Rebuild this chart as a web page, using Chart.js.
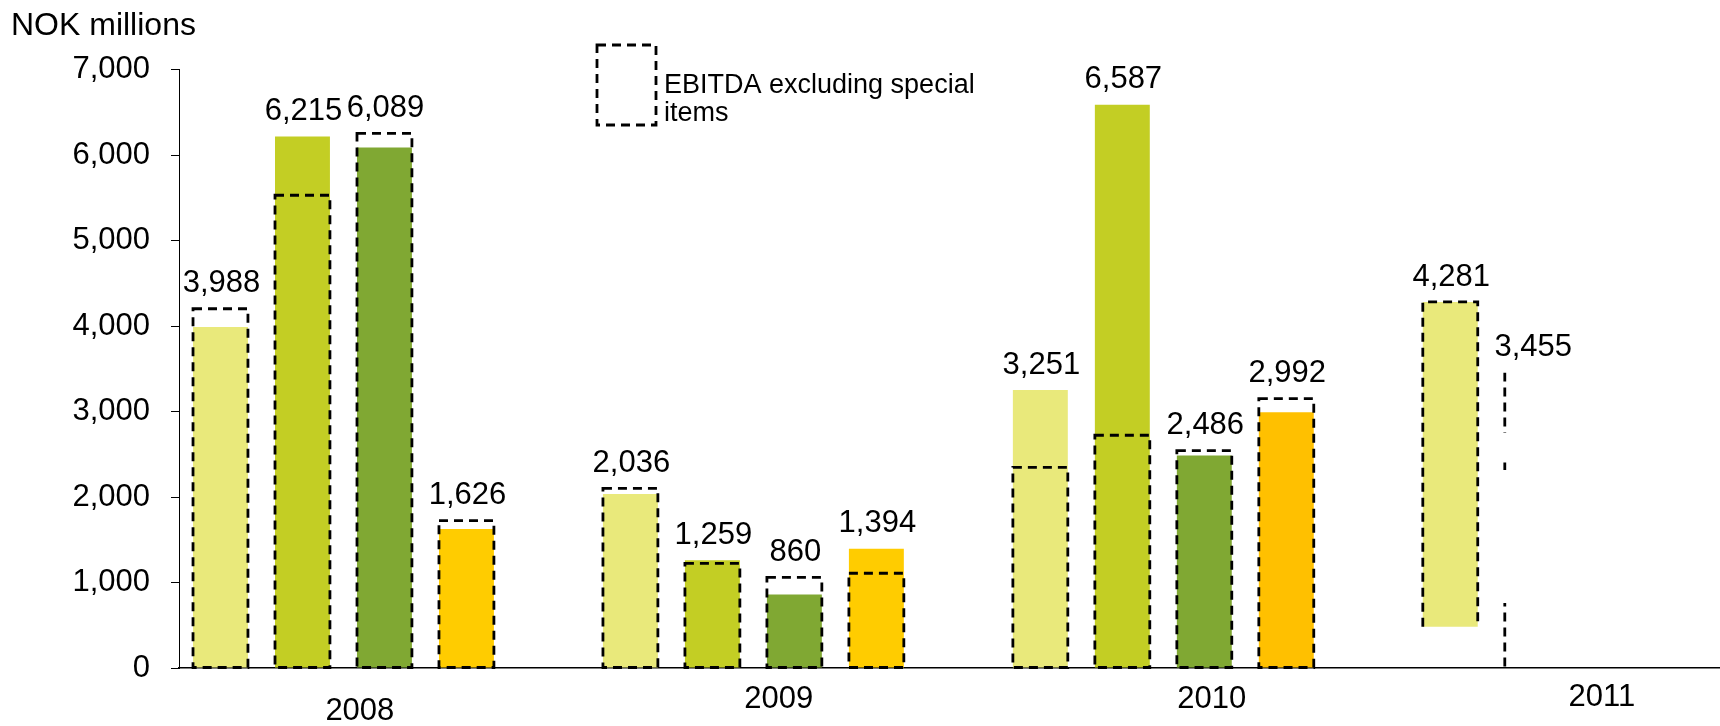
<!DOCTYPE html>
<html>
<head>
<meta charset="utf-8">
<script src="https://cdn.jsdelivr.net/npm/chart.js@4.4.1/dist/chart.umd.min.js"></script>
<style>
  html, body { margin: 0; padding: 0; background: #ffffff; overflow: hidden; }
  #wrap { width: 1720px; height: 726px; }
</style>
</head>
<body>
<div id="wrap"><canvas id="c" width="1720" height="726"></canvas></div>
<script>
// ---------------- DATA ----------------
const years = ['2008', '2009', '2010', '2011'];
const quarters = ['Q1', 'Q2', 'Q3', 'Q4'];

// Reported EBITDA (filled bars, labelled values), NOK millions
const ebitdaQ1 = [3988, 2036, 3251, 4281];
const ebitdaQ2 = [6215, 1259, 6587, 3455];
const ebitdaQ3 = [6089, 860, 2486, null];
const ebitdaQ4 = [1626, 1394, 2992, null];

// EBITDA excluding special items (dashed outlines)
const exclQ1 = [4202, 2102, 2347, 4281];
const exclQ2 = [5529, 1224, 2722, 3455];
const exclQ3 = [6254, 1060, 2542, null];
const exclQ4 = [1723, 1108, 3150, null];

// In the picture the 2011 Q1 column is only visible above this level
const q1Base2011 = 483;
// Visible pieces of the 2011 Q2 dashed outline (left edge only)
const q2Outline2011Visible = [[0, 760], [2316, 2433], [2749, 3455]];

const yAxisTitle = 'NOK millions';
const legendText = ['EBITDA excluding special', 'items'];

// ---------------- BUILD ----------------
const reported = [ebitdaQ1, ebitdaQ2, ebitdaQ3, ebitdaQ4];
const excluding = [exclQ1, exclQ2, exclQ3, exclQ4];
const slot = (g, q) => g * 5 + q;   // 4 bars per year + 1 empty slot

function points(arr, q) {
  return arr.map((v, g) => {
    if (v == null) return { x: slot(g, q), y: null };
    const floating = (q === 0 && g === 3);
    return { x: slot(g, q), y: floating ? [q1Base2011, v] : v };
  });
}

const fillColors = [
  () => '#E9E97B',
  (c) => c.dataIndex === 3 ? 'rgba(0,0,0,0)' : '#C3CE24',
  () => '#80A833',
  (c) => c.dataIndex === 2 ? '#FFC000' : '#FFCC00'
];

const datasets = [];
quarters.forEach((qn, q) => {
  datasets.push({
    label: 'EBITDA ' + qn,
    data: points(reported[q], q),
    backgroundColor: fillColors[q],
    borderWidth: 0
  });
});
quarters.forEach((qn, q) => {
  datasets.push({
    label: 'EBITDA excluding special items ' + qn,
    data: points(excluding[q], q),
    backgroundColor: 'rgba(0,0,0,0)',
    borderWidth: 0,
    outline: true,
    quarter: q
  });
});

const yearTickAt = [1.70, 6.81, 12.09, 16.85];
const DASH = [9, 6];
const DASH_W = 2.8;

// dashed outlines drawn from the library's bar elements
const dashOutline = {
  id: 'dashOutline',
  afterDatasetsDraw(chart) {
    const ctx = chart.ctx, ca = chart.chartArea, ys = chart.scales.y;
    ctx.save();
    ctx.beginPath();
    ctx.rect(ca.left, ca.top - 10, ca.right - ca.left, ca.bottom - ca.top + 12);
    ctx.clip();
    ctx.strokeStyle = '#000';
    ctx.lineWidth = DASH_W;
    ctx.setLineDash(DASH);
    chart.data.datasets.forEach((ds, di) => {
      if (!ds.outline) return;
      const meta = chart.getDatasetMeta(di);
      meta.data.forEach((el, g) => {
        if (ds.data[g].y == null) return;
        const p = el.getProps(['x', 'y', 'base', 'width'], true);
        const l = p.x - p.width / 2, r = p.x + p.width / 2;
        const top = Math.min(p.y, p.base), bot = Math.max(p.y, p.base);
        if (ds.quarter === 1 && g === 3) {
          q2Outline2011Visible.forEach(([a, b]) => {
            ctx.save();
            const y1 = ys.getPixelForValue(b), y2 = ys.getPixelForValue(a);
            ctx.beginPath();
            ctx.rect(l - 5, y1, 10, y2 - y1);
            ctx.clip();
            ctx.beginPath();
            ctx.moveTo(l, top);
            ctx.lineTo(l, bot);
            ctx.stroke();
            ctx.restore();
          });
        } else if (ds.quarter === 0 && g === 3) {
          ctx.beginPath();
          ctx.moveTo(l, bot);
          ctx.lineTo(l, top);
          ctx.lineTo(r, top);
          ctx.lineTo(r, bot);
          ctx.stroke();
        } else {
          ctx.beginPath();
          ctx.rect(l, top, r - l, bot - top);
          ctx.stroke();
        }
      });
    });
    ctx.restore();
  }
};

// value labels above each column
const valueLabels = {
  id: 'valueLabels',
  afterDatasetsDraw(chart) {
    const ctx = chart.ctx;
    ctx.save();
    ctx.fillStyle = '#000';
    ctx.font = '31px "Liberation Sans", Arial, sans-serif';
    ctx.textAlign = 'center';
    ctx.textBaseline = 'middle';
    quarters.forEach((qn, q) => {
      const fillEl = chart.getDatasetMeta(q).data;
      const exEl = chart.getDatasetMeta(4 + q).data;
      reported[q].forEach((v, g) => {
        if (v == null) return;
        let top = fillEl[g].y;
        if (excluding[q][g] != null) top = Math.min(top, exEl[g].y);
        ctx.fillText(v.toLocaleString('en-US'), fillEl[g].x + 1, top - 25);
      });
    });
    ctx.restore();
  }
};

// legend: dashed box + two-line text
const dashLegend = {
  id: 'dashLegend',
  afterDraw(chart) {
    const ctx = chart.ctx;
    ctx.save();
    ctx.strokeStyle = '#000';
    ctx.lineWidth = DASH_W;
    ctx.setLineDash(DASH);
    ctx.beginPath();
    ctx.rect(597, 45, 59, 80);
    ctx.stroke();
    ctx.setLineDash([]);
    ctx.fillStyle = '#000';
    ctx.font = '27px "Liberation Sans", Arial, sans-serif';
    ctx.textAlign = 'left';
    ctx.textBaseline = 'alphabetic';
    ctx.fillText(legendText[0], 664, 93);
    ctx.fillText(legendText[1], 664, 121);
    ctx.restore();
  }
};

Chart.defaults.font.family = '"Liberation Sans", Arial, sans-serif';
Chart.defaults.color = '#000';

new Chart(document.getElementById('c'), {
  type: 'bar',
  data: { datasets },
  options: {
    responsive: false,
    animation: false,
    devicePixelRatio: 1,
    grouped: false,
    categoryPercentage: 1,
    barPercentage: 0.67,
    layout: { padding: { left: 11, right: 0, top: 0, bottom: 0 } },
    plugins: {
      legend: { display: false },
      tooltip: { enabled: false },
      title: {
        display: true,
        text: yAxisTitle,
        align: 'start',
        color: '#000',
        font: { size: 32, weight: 'normal', lineHeight: 1.2 },
        padding: { top: 7.4, bottom: 23.7 }
      }
    },
    scales: {
      x: {
        type: 'linear',
        offset: false,
        min: -0.506,
        max: 18.29,
        grid: { display: false, drawTicks: false, offset: false },
        border: { display: true, color: '#000', width: 1.6 },
        afterBuildTicks(scale) { scale.ticks = yearTickAt.map(v => ({ value: v })); },
        afterFit(scale) { scale.height = 58; },
        ticks: {
          autoSkip: false,
          maxRotation: 0,
          padding: 12.4,
          font: (c) => ({ size: 31, lineHeight: c.index === 0 ? 2.0 : (c.index === 3 ? 1.1 : 1.2) }),
          color: '#000',
          callback: (v, i) => years[i]
        }
      },
      y: {
        min: 0,
        max: 7000,
        afterFit(scale) { scale.width = 168; },
        grid: { drawOnChartArea: false, drawTicks: true, tickLength: 8, color: '#000', lineWidth: 1 },
        border: { display: true, color: '#000', width: 1 },
        ticks: {
          stepSize: 1000,
          padding: 21,
          font: { size: 31 },
          color: '#000',
          callback: (v) => v.toLocaleString('en-US')
        }
      }
    }
  },
  plugins: [dashOutline, valueLabels, dashLegend]
});
</script>
</body>
</html>
